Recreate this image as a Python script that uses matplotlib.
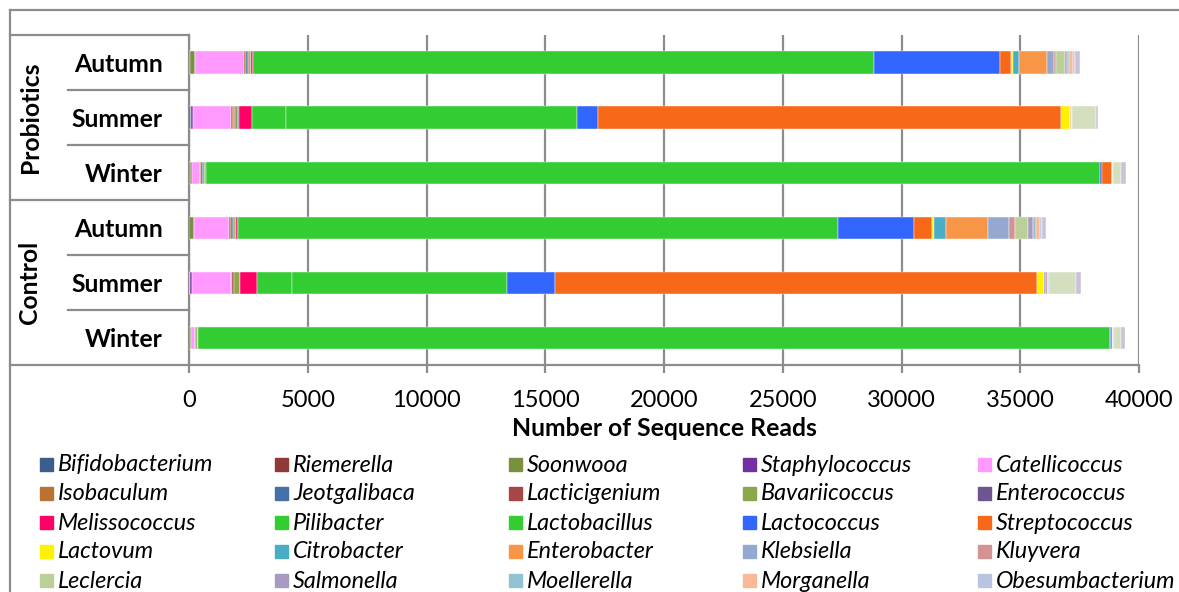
import matplotlib
matplotlib.use("Agg")
import matplotlib.pyplot as plt
from matplotlib.patches import Rectangle
import numpy as np

plt.rcParams['font.family'] = ['Lato', 'DejaVu Sans']

genera = ['Bifidobacterium', 'Riemerella', 'Soonwooa', 'Staphylococcus', 'Catellicoccus',
          'Isobaculum', 'Jeotgalibaca', 'Lacticigenium', 'Bavariicoccus', 'Enterococcus',
          'Melissococcus', 'Pilibacter', 'Lactobacillus', 'Lactococcus', 'Streptococcus',
          'Lactovum', 'Citrobacter', 'Enterobacter', 'Klebsiella', 'Kluyvera',
          'Leclercia', 'Salmonella', 'Moellerella', 'Morganella', 'Obesumbacterium',
          # legend rows below the visible area
          'Others', 'Unclassified']
colors = ['#3B5E8C', '#8E3A38', '#77913F', '#7030A0', '#FF99FF',
          '#B87333', '#4471A8', '#A84646', '#8BA84C', '#6E5590',
          '#FF0066', '#33CC33', '#33CC33', '#3366FF', '#F76818',
          '#FFF200', '#4BACC6', '#F79646', '#95A9D0', '#D49392',
          '#BBCF98', '#A99BC0', '#92C3D3', '#F9B994', '#B9C5E0',
          '#D4DFC0', '#C9C2DB']

seasons = ['Winter', 'Summer', 'Autumn', 'Winter', 'Summer', 'Autumn']
groups = ['Control', 'Probiotics']

# reads per genus, same order as genera
control_winter = [0, 0, 80, 0, 155, 0, 70, 0, 70, 0, 0, 0, 38400, 40, 85,
                  0, 0, 20, 0, 0, 0, 0, 0, 0, 20, 295, 190]
control_summer = [40, 0, 0, 80, 1640, 60, 0, 60, 260, 0, 715, 1500, 9055, 2005, 20280,
                  325, 0, 0, 80, 80, 0, 0, 0, 0, 20, 1165, 175]
control_autumn = [0, 20, 170, 0, 1515, 60, 80, 60, 60, 30, 60, 0, 25265, 3200, 760,
                  85, 505, 1780, 885, 225, 575, 200, 110, 200, 80, 0, 170]
probiotics_winter = [0, 0, 100, 40, 340, 20, 80, 0, 100, 0, 20, 0, 37650, 85, 410,
                     20, 0, 20, 0, 0, 0, 0, 0, 0, 20, 350, 180]
probiotics_summer = [80, 0, 20, 70, 1610, 80, 20, 40, 160, 20, 550, 1445, 12260, 860, 19490,
                     410, 0, 30, 0, 30, 0, 0, 0, 0, 20, 980, 90]
probiotics_autumn = [20, 30, 200, 0, 2080, 60, 80, 60, 60, 40, 80, 0, 26130, 5300, 490,
                     85, 250, 1180, 270, 85, 390, 85, 80, 170, 60, 0, 250]

counts = np.array([control_winter, control_summer, control_autumn,
                   probiotics_winter, probiotics_summer, probiotics_autumn], dtype=float)

W, H = 1179, 592
fig = plt.figure(figsize=(W / 100, H / 100), dpi=100)
ax = fig.add_axes([189 / W, 1 - 365 / H, 950 / W, 330 / H])

grey = '#8C8C8C'
y = np.arange(len(seasons))
left = np.zeros(len(seasons))
for j, name in enumerate(genera):
    ax.barh(y, counts[:, j], left=left, height=0.4, color=colors[j],
            edgecolor='white', linewidth=0.3, label=name, zorder=3)
    left += counts[:, j]

ax.set_xlim(0, 40000)
ax.set_ylim(-0.5, 5.5)
ax.set_xticks(np.arange(0, 40001, 5000))
ax.xaxis.grid(True, color=grey, linewidth=1.6, zorder=0)
ax.set_axisbelow(True)
for s in ['top', 'right']:
    ax.spines[s].set_visible(False)
for s in ['left', 'bottom']:
    ax.spines[s].set_color(grey)
    ax.spines[s].set_linewidth(1.6)
ax.tick_params(axis='x', colors=grey, width=1.6, length=6, labelsize=17,
               labelcolor='black', pad=12)
ax.set_yticks(y)
ax.set_yticklabels(seasons, fontsize=17.8, fontweight='bold')
ax.tick_params(axis='y', length=0, pad=19)
ax.set_xlabel('Number of Sequence Reads', fontsize=17.8, fontweight='bold', labelpad=4)

# multi-level category box
tr = ax.get_yaxis_transform()
x_out = (10 - 189) / 950
x_in = (68 - 189) / 950
for yy in [5.5, 2.5, -0.5]:
    ax.plot([x_out, 0], [yy, yy], color=grey, lw=1.6, transform=tr, clip_on=False)
for yy in [4.5, 3.5, 1.5, 0.5]:
    ax.plot([x_in, 0], [yy, yy], color=grey, lw=1.6, transform=tr, clip_on=False)
ax.text((30 - 189) / 950, 4, groups[1], transform=tr, rotation=90, ha='center',
        va='center', fontsize=17.8, fontweight='bold')
ax.text((30 - 189) / 950, 1, groups[0], transform=tr, rotation=90, ha='center',
        va='center', fontsize=17.8, fontweight='bold')

# chart border (cropped at right and bottom)
fig.add_artist(plt.Line2D([10 / W, 10 / W], [0, 1 - 10 / H], color=grey, lw=1.6))
fig.add_artist(plt.Line2D([10 / W, 1], [1 - 10 / H, 1 - 10 / H], color=grey, lw=1.6))

# legend laid out row by row like the original
col_x = [40, 275, 509, 743, 978]
row_y = [465, 494, 523, 552, 581]
for i, name in enumerate(genera[:25]):
    cx = col_x[i % 5]
    cy = row_y[i // 5]
    fig.add_artist(Rectangle((cx / W, 1 - (cy + 6) / H), 13 / W, 13 / H,
                             transform=fig.transFigure, color=colors[i]))
    fig.text((cx + 18) / W, 1 - cy / H, name, fontsize=16.8, style='italic',
             va='center', ha='left')

fig.savefig('out.png', dpi=100)
